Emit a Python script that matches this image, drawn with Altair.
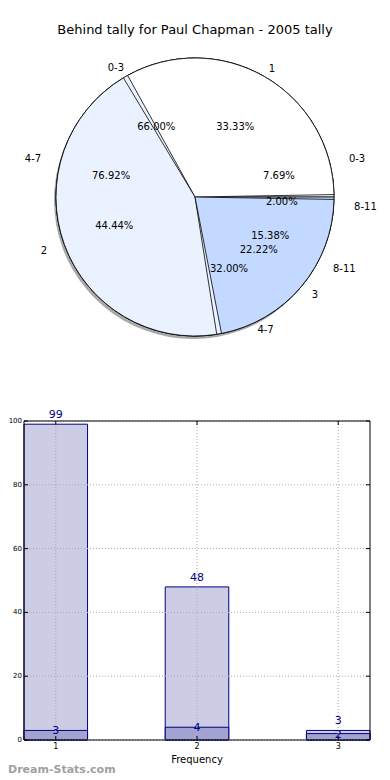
import math
import altair as alt
import pandas as pd

# ---------------- data ----------------
title_text = "Behind tally for Paul Chapman - 2005 tally"
watermark_text = "Dream-Stats.com"
x_title = "Frequency"

# pie A: behind tally by frequency
freq_cats = ["1", "2", "3"]
freq_counts = [3, 4, 2]
# pie B and pie C: by range
range_cats = ["0-3", "4-7", "8-11"]
pie_b_counts = [1, 10, 2]
pie_c_counts = [66, 32, 2]

# bar chart
freqs = [1, 2, 3]
totals = [99, 48, 3]
behind = [3, 4, 2]
y_ticks = [0, 20, 40, 60, 80, 100]
x_ticks = [1, 2, 3]

pie_rows = []
for pie, cats, vals in [("C", range_cats, pie_c_counts),
                        ("B", range_cats, pie_b_counts),
                        ("A", freq_cats, freq_counts)]:
    for i, (c, v) in enumerate(zip(cats, vals)):
        pie_rows.append({"pie": pie, "cat": c, "value": v, "idx": i})
pie_df = pd.DataFrame(pie_rows)

bar_df = pd.DataFrame({"freq": freqs, "total": totals, "behind": behind})
ytick_df = pd.DataFrame({"v": y_ticks})
xtick_df = pd.DataFrame({"f": x_ticks})
title_df = pd.DataFrame({"t": [title_text]})
wm_df = pd.DataFrame({"t": [watermark_text]})
xt_df = pd.DataFrame({"t": [x_title]})

FONT = "DejaVu Sans"
PAD_L = 16
CX, CY = 195 - 8 - PAD_L, 189   # pie centre (pixels in view)
R = 139                          # pie radius
BAR_HALF = 0.225
X_LO, X_HI = 0.775, 3.225

theta_scale = alt.Scale(domain=[0, 100], range=[2.5 * math.pi, 0.5 * math.pi])
color_scale = alt.Scale(domain=["1", "2", "3", "0-3", "4-7", "8-11"],
                        range=["#FFFFFF", "#EBF2FF", "#C4D9FF",
                               "#FFFFFF", "#EBF2FF", "#C4D9FF"])

xs = alt.Scale(domain=[X_LO, X_HI], nice=False, zero=False)
ys = alt.Scale(domain=[0, 100], range=[732, 413], nice=False, zero=False)


def XF(f):
    return alt.X(f, type="quantitative", scale=xs, axis=None)


def YF(f):
    return alt.Y(f, type="quantitative", scale=ys, axis=None)


def XD(v):
    return alt.XDatum(v, type="quantitative", scale=xs, axis=None)


def YD(v):
    return alt.YDatum(v, type="quantitative", scale=ys, axis=None)


def pie_base(p):
    return (alt.Chart(pie_df)
            .transform_filter(alt.datum.pie == p)
            .transform_joinaggregate(total="sum(value)")
            .transform_calculate(pct="100*datum.value/datum.total"))


def pie_arc(p, pad=0.0):
    return pie_base(p).mark_arc(radius=R, stroke="black", strokeWidth=0.8,
                                padAngle=pad).encode(
        theta=alt.Theta("pct:Q", stack=True, scale=theta_scale),
        order=alt.Order("idx:Q"),
        color=alt.Color("cat:N", scale=color_scale, legend=None),
        x=alt.value(CX), y=alt.value(CY))


shadow = pie_base("A").mark_arc(radius=R, color="#707070", opacity=0.6).encode(
    theta=alt.Theta("pct:Q", stack=True, scale=theta_scale),
    order=alt.Order("idx:Q"),
    x=alt.value(CX - 2), y=alt.value(CY + 3))

# label radii follow the slightly flattened ellipse of the original pie
labels_base = (alt.Chart(pie_df)
               .transform_joinaggregate(total="sum(value)", groupby=["pie"])
               .transform_calculate(pct="100*datum.value/datum.total")
               .transform_window(cum="sum(pct)", groupby=["pie"],
                                 sort=[alt.SortField("idx", order="ascending")],
                                 frame=[None, 0])
               .transform_calculate(
                   mid="datum.cum - datum.pct/2",
                   ang="2*PI*(datum.cum - datum.pct/2)/100",
                   plabel="format(datum.pct, '.2f') + '%'")
               .transform_calculate(
                   ell="1/sqrt(pow(cos(datum.ang)/145, 2) + pow(sin(datum.ang)/131, 2))")
               .transform_calculate(r_in="0.6*datum.ell", r_out="1.1*datum.ell"))

pct_labels = labels_base.mark_text(font=FONT, fontSize=10, baseline="middle",
                                   align="center", color="black").encode(
    theta=alt.Theta("mid:Q", stack=None, scale=theta_scale),
    radius=alt.Radius("r_in:Q", scale=None),
    text="plabel:N", x=alt.value(CX), y=alt.value(CY))

cat_right = labels_base.transform_filter("cos(datum.ang) >= 0").mark_text(
    font=FONT, fontSize=10, baseline="middle", align="left", color="black").encode(
    theta=alt.Theta("mid:Q", stack=None, scale=theta_scale),
    radius=alt.Radius("r_out:Q", scale=None),
    text="cat:N", x=alt.value(CX), y=alt.value(CY))

cat_left = labels_base.transform_filter("cos(datum.ang) < 0").mark_text(
    font=FONT, fontSize=10, baseline="middle", align="right", color="black").encode(
    theta=alt.Theta("mid:Q", stack=None, scale=theta_scale),
    radius=alt.Radius("r_out:Q", scale=None),
    text="cat:N", x=alt.value(CX), y=alt.value(CY))

title = alt.Chart(title_df).mark_text(font=FONT, fontSize=13, align="center",
                                      baseline="middle", color="black").encode(
    text="t:N", x=alt.value(CX), y=alt.value(22))

# ---------------- bar chart ----------------
bar_base = alt.Chart(bar_df).transform_calculate(
    x0=f"datum.freq - {BAR_HALF}", x1=f"datum.freq + {BAR_HALF}")

outer_bars = bar_base.mark_bar(fill="#CCCCE5", stroke="#000080",
                               strokeWidth=1).encode(
    x=XF("x0"), x2="x1:Q", y=YF("total"), y2=alt.Y2Datum(0))

inner_bars = bar_base.mark_bar(fill="#A3A3D1", stroke="#000080",
                               strokeWidth=1).encode(
    x=XF("x0"), x2="x1:Q", y=YF("behind"), y2=alt.Y2Datum(0))

grid_style = dict(color="#AAAAAA", strokeWidth=1, strokeDash=[1, 2])
ygrid = alt.Chart(ytick_df).mark_rule(**grid_style).encode(
    y=YF("v"), x=XD(X_LO), x2=alt.X2Datum(X_HI))
xgrid = alt.Chart(xtick_df).mark_rule(**grid_style).encode(
    x=XF("f"), y=YD(0), y2=alt.Y2Datum(100))

tick_style = dict(color="black", strokeWidth=1)
dx = 4 / 141.0
dy_ = 4 / 3.19
ytick_l = alt.Chart(ytick_df).mark_rule(**tick_style).encode(
    y=YF("v"), x=XD(X_LO), x2=alt.X2Datum(X_LO + dx))
ytick_r = alt.Chart(ytick_df).mark_rule(**tick_style).encode(
    y=YF("v"), x=XD(X_HI - dx), x2=alt.X2Datum(X_HI))
xtick_b = alt.Chart(xtick_df).mark_rule(**tick_style).encode(
    x=XF("f"), y=YD(0), y2=alt.Y2Datum(dy_))
xtick_t = alt.Chart(xtick_df).mark_rule(**tick_style).encode(
    x=XF("f"), y=YD(100 - dy_), y2=alt.Y2Datum(100))

frame = alt.Chart(title_df).mark_rect(fillOpacity=0, stroke="black",
                                      strokeWidth=1).encode(
    x=XD(X_LO), x2=alt.X2Datum(X_HI), y=YD(0), y2=alt.Y2Datum(100))

# tick labels and axis title
ytick_labels = alt.Chart(ytick_df).mark_text(
    font=FONT, fontSize=7, align="right", baseline="middle",
    color="black").encode(y=YF("v"), x=alt.value(-2), text="v:Q")
xtick_labels = alt.Chart(xtick_df).mark_text(
    font=FONT, fontSize=8, align="center", baseline="top",
    color="black").encode(x=XF("f"), y=alt.value(735), text="f:Q")
xtitle = alt.Chart(xt_df).mark_text(
    font=FONT, fontSize=10, align="center", baseline="middle",
    color="black").encode(x=XD(2), y=alt.value(752), text="t:N")

total_labels = alt.Chart(bar_df).mark_text(font=FONT, fontSize=11,
                                           color="#00008B", baseline="middle",
                                           dy=-9).encode(
    x=XF("freq"), y=YF("total"), text="total:Q")
behind_labels = alt.Chart(bar_df).mark_text(font=FONT, fontSize=11,
                                            color="#00008B", baseline="middle",
                                            dy=1).encode(
    x=XF("freq"), y=YF("behind"), text="behind:Q")

watermark = alt.Chart(wm_df).mark_text(font=FONT, fontSize=11, fontWeight="bold",
                                       color="#A0A0A0", align="left",
                                       baseline="middle").encode(
    text="t:N", x=alt.value(-PAD_L), y=alt.value(762))

chart = alt.layer(
    outer_bars, inner_bars, ygrid, xgrid, ytick_l, ytick_r, xtick_b, xtick_t,
    frame, ytick_labels, xtick_labels, xtitle, total_labels, behind_labels,
    shadow, pie_arc("C"), pie_arc("B"), pie_arc("A", pad=0.035),
    pct_labels, cat_right, cat_left, title, watermark,
).properties(
    width=346, height=732,
    background="white",
    autosize=alt.AutoSizeParams(type="none"),
    padding={"left": PAD_L, "top": 0, "right": 12, "bottom": 40},
).configure_view(stroke=None)

chart.save("out.html", embed_options={"renderer": "svg", "actions": False})
